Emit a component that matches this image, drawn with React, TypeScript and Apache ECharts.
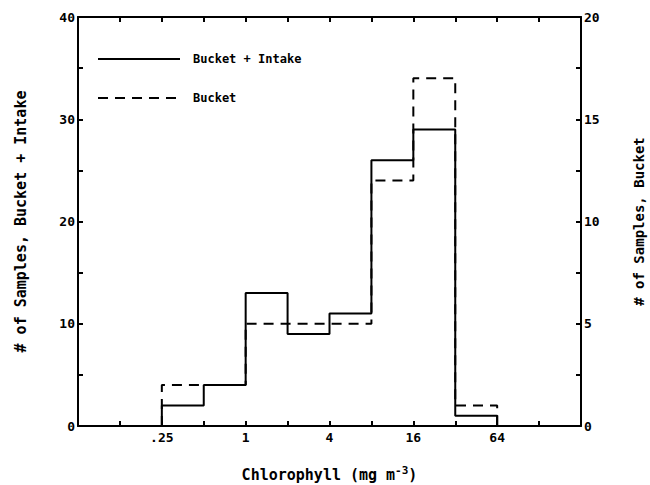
import React, { useEffect, useRef } from "react";
import * as echarts from "echarts";

// Bin edges (mg m^-3) and counts per bin
const binEdges = [0.25, 0.5, 1, 2, 4, 8, 16, 32, 64];
const bucketIntake = [2, 4, 13, 9, 11, 26, 29, 1]; // left axis
const bucket = [2, 2, 5, 5, 5, 12, 17, 1]; // right axis
const xTickValues = [0.25, 1, 4, 16, 64];
const xTickLabels = [".25", "1", "4", "16", "64"];
const xMin = 1 / 16;
const xMax = 256;

const FONT = "DejaVu Sans Mono";

function stepPoints(edges: number[], vals: number[]) {
  const pts: [number, number][] = [[Math.log2(edges[0]), 0]];
  vals.forEach((v, i) => {
    pts.push([Math.log2(edges[i]), v]);
    pts.push([Math.log2(edges[i + 1]), v]);
  });
  pts.push([Math.log2(edges[edges.length - 1]), 0]);
  return pts;
}

export default function App() {
  const ref = useRef<HTMLDivElement>(null);
  useEffect(() => {
    if (!ref.current) return;
    const chart = echarts.init(ref.current, null, { renderer: "svg" });
    const labelMap: Record<string, string> = {};
    xTickValues.forEach((v, i) => {
      labelMap[String(Math.log2(v))] = xTickLabels[i];
    });
    const axisBase = {
      axisLine: { show: true, onZero: false, lineStyle: { color: "#000", width: 2 } },
      axisTick: { show: true, inside: true, length: 5, lineStyle: { color: "#000", width: 2 } },
      splitLine: { show: false },
    };
    chart.setOption({
      animation: false,
      backgroundColor: "#fff",
      grid: { left: 78, right: 69, top: 17, bottom: 59, containLabel: false, outerBoundsMode: "none" },
      xAxis: [
        {
          type: "value",
          min: Math.log2(xMin),
          max: Math.log2(xMax),
          interval: 1,
          ...axisBase,
          axisLabel: {
            show: true,
            margin: 5,
            color: "#000",
            fontFamily: FONT,
            fontWeight: "bold",
            fontSize: 13,
            formatter: (v: number) => labelMap[String(v)] ?? "",
          },
          name: "Chlorophyll (mg m{sup|-3})",
          nameLocation: "middle",
          nameGap: 39,
          nameTextStyle: {
            color: "#000",
            fontFamily: FONT,
            fontWeight: "bold",
            fontSize: 15,
            rich: {
              sup: { fontFamily: FONT, fontWeight: "bold", fontSize: 11, verticalAlign: "top", padding: [0, 0, 8, 0], color: "#000" },
            },
          },
        },
        {
          type: "value",
          position: "top",
          min: Math.log2(xMin),
          max: Math.log2(xMax),
          interval: 1,
          ...axisBase,
          axisLabel: { show: false },
        },
      ],
      yAxis: [
        {
          type: "value",
          min: 0,
          max: 40,
          interval: 5,
          position: "left",
          ...axisBase,
          axisLabel: {
            color: "#000",
            margin: 3,
            fontFamily: FONT,
            fontWeight: "bold",
            fontSize: 13,
            formatter: (v: number) => (v % 10 === 0 ? String(v) : ""),
          },
          name: "# of Samples, Bucket + Intake",
          nameLocation: "middle",
          nameRotate: 90,
          nameGap: 50,
          nameTextStyle: { color: "#000", fontFamily: FONT, fontWeight: "bold", fontSize: 15 },
        },
        {
          type: "value",
          min: 0,
          max: 20,
          interval: 2.5,
          position: "right",
          ...axisBase,
          axisLabel: {
            color: "#000",
            margin: 3,
            fontFamily: FONT,
            fontWeight: "bold",
            fontSize: 13,
            formatter: (v: number) => (v % 5 === 0 ? String(v) : ""),
          },
          name: "# of Samples, Bucket",
          nameLocation: "middle",
          nameRotate: 90,
          nameGap: 51,
          nameTextStyle: { color: "#000", fontFamily: FONT, fontWeight: "bold", fontSize: 14 },
        },
      ],
      series: [
        {
          name: "Bucket",
          type: "line",
          yAxisIndex: 1,
          data: stepPoints(binEdges, bucket),
          symbol: "none",
          lineStyle: { color: "#000", width: 2, type: [10, 7] },
          z: 2,
        },
        {
          name: "Bucket + Intake",
          type: "line",
          yAxisIndex: 0,
          data: stepPoints(binEdges, bucketIntake),
          symbol: "none",
          lineStyle: { color: "#000", width: 2 },
          z: 3,
        },
      ],
      graphic: [
        { type: "line", shape: { x1: 98, y1: 59, x2: 180, y2: 59 }, style: { stroke: "#000", lineWidth: 2 } },
        { type: "text", x: 193, y: 59, style: { text: "Bucket + Intake", fill: "#000", font: `bold 12px "${FONT}"`, textVerticalAlign: "middle" } },
        { type: "line", shape: { x1: 98, y1: 98, x2: 180, y2: 98 }, style: { stroke: "#000", lineWidth: 2, lineDash: [10, 7] } },
        { type: "text", x: 193, y: 98, style: { text: "Bucket", fill: "#000", font: `bold 12px "${FONT}"`, textVerticalAlign: "middle" } },
      ],
    });
    return () => chart.dispose();
  }, []);
  return <div ref={ref} style={{ position: "absolute", left: 0, top: 0, width: 650, height: 485 }} />;
}
